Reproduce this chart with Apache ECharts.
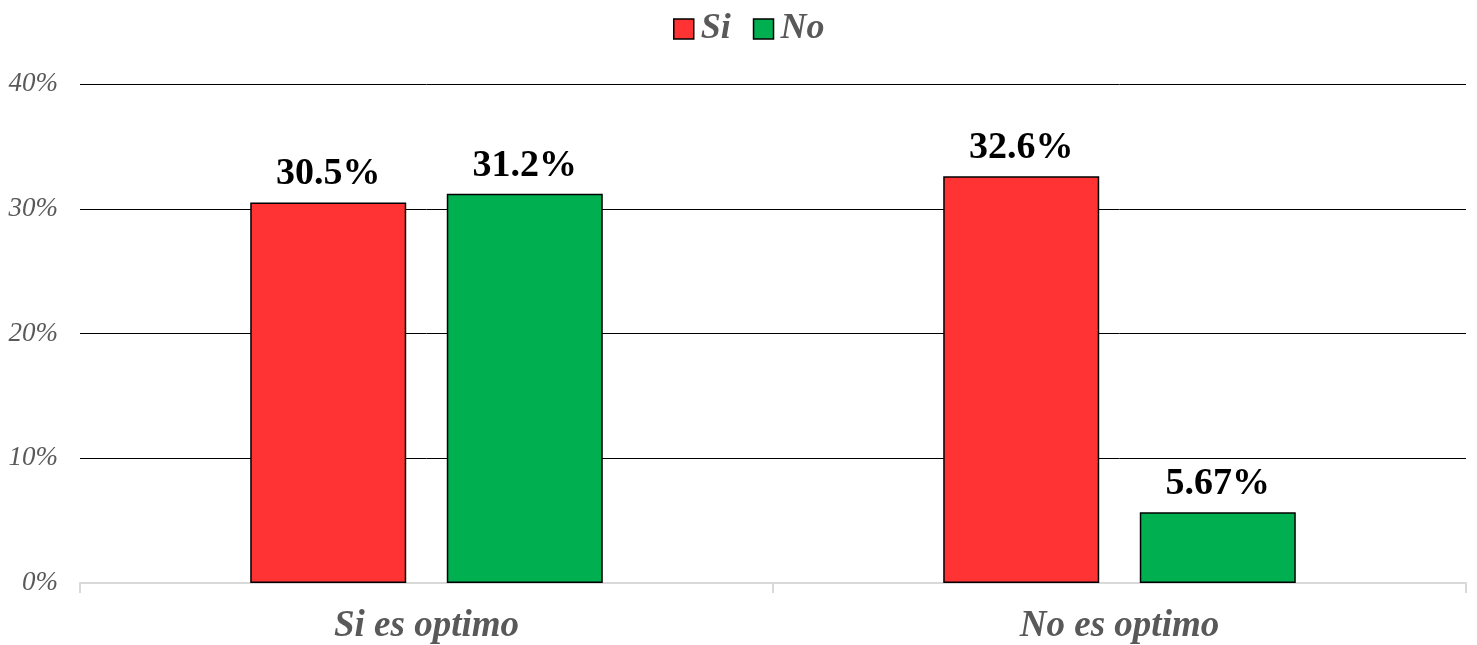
<!DOCTYPE html>
<html>
<head>
<meta charset="utf-8">
<script src="https://cdn.jsdelivr.net/npm/echarts@6/dist/echarts.min.js"></script>
<style>
  html, body { margin: 0; padding: 0; background: #fff; }
  #chart { width: 1477px; height: 645px; }
</style>
</head>
<body>
<div id="chart"></div>
<script>
// Categories, series and axis ticks
const categories = ['Si es optimo', 'No es optimo'];
const seriesSi = [30.5, 32.6];
const seriesNo = [31.2, 5.67];
const seriesNames = ['Si', 'No'];
const yTicks = [0, 10, 20, 30, 40];

const serif = '"Liberation Serif", "DejaVu Serif", serif';
const colors = ['#FF3333', '#00B050'];

function labelFor(v) {
  return v + '%';
}

const chart = echarts.init(document.getElementById('chart'), null, { renderer: 'canvas' });

const makeSeries = (name, data, color) => ({
  name: name,
  type: 'bar',
  data: data,
  barWidth: 156,
  barGap: '26%',
  itemStyle: { color: color, borderColor: '#000', borderWidth: 1.5 },
  label: {
    show: true,
    position: 'top',
    distance: 9,
    formatter: p => labelFor(p.value),
    fontFamily: serif,
    fontWeight: 'bold',
    fontSize: 38,
    color: '#000'
  }
});

chart.setOption({
  animation: false,
  color: colors,
  legend: {
    data: seriesNames,
    top: 6,
    left: 668,
    itemWidth: 20,
    itemHeight: 20,
    itemGap: 22,
    icon: 'rect',
    itemStyle: { borderColor: '#000', borderWidth: 1.5 },
    textStyle: {
      fontFamily: serif,
      fontStyle: 'italic',
      fontWeight: 'bold',
      fontSize: 36,
      color: '#595959',
      padding: [0, 0, 0, 2]
    }
  },
  grid: { left: 80, right: 11, top: 84, bottom: 60, containLabel: false },
  xAxis: {
    type: 'category',
    data: categories,
    axisLine: { lineStyle: { color: '#d9d9d9', width: 2 } },
    axisTick: { show: true, length: 10, lineStyle: { color: '#d9d9d9', width: 2 } },
    axisLabel: {
      fontFamily: serif,
      fontStyle: 'italic',
      fontWeight: 'bold',
      fontSize: 37,
      color: '#595959',
      margin: 25
    }
  },
  yAxis: {
    type: 'value',
    min: yTicks[0],
    max: yTicks[yTicks.length - 1],
    interval: 10,
    axisLine: { show: false },
    axisTick: { show: false },
    splitLine: { lineStyle: { color: '#000', width: 1 } },
    axisLabel: {
      formatter: v => v + '%',
      fontFamily: serif,
      fontStyle: 'italic',
      fontSize: 27,
      color: '#595959',
      margin: 22
    }
  },
  series: [
    makeSeries(seriesNames[0], seriesSi, colors[0]),
    makeSeries(seriesNames[1], seriesNo, colors[1])
  ]
});
</script>
</body>
</html>
